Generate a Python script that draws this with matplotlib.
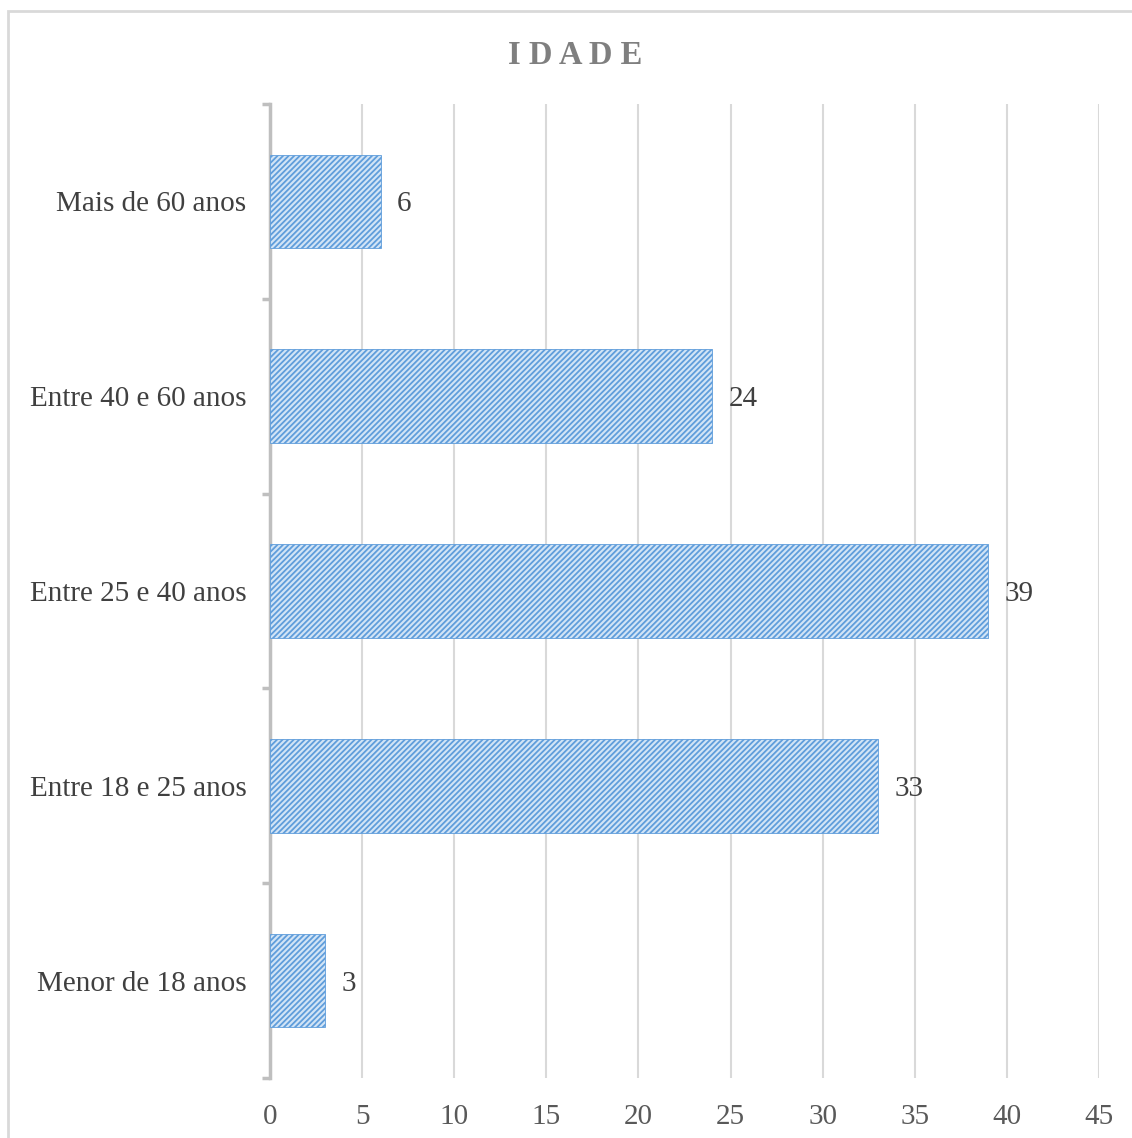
import matplotlib.pyplot as plt
from matplotlib.patches import Rectangle

# Data
categories = ['Menor de 18 anos', 'Entre 18 e 25 anos', 'Entre 25 e 40 anos',
              'Entre 40 e 60 anos', 'Mais de 60 anos']
values = [3, 33, 39, 24, 6]
x_ticks = [0, 5, 10, 15, 20, 25, 30, 35, 40, 45]

plt.rcParams['font.family'] = ['Liberation Serif', 'DejaVu Serif']
plt.rcParams['hatch.linewidth'] = 1.3

fig = plt.figure(figsize=(11.32, 11.38), dpi=100)
ax = fig.add_axes([270 / 1132, 1 - 1078 / 1138, (1099 - 270) / 1132, (1078 - 104) / 1138])

y = range(len(categories))
bars = ax.barh(y, values, height=0.48, color='#d2e4f6', edgecolor='#5f9ddb',
               hatch='//////', linewidth=0.6, zorder=3)

# Value labels
for yi, v in zip(y, values):
    ax.text(v + 0.9, yi, str(v), va='center_baseline', ha='left', fontsize=21,
            color='#404040')

ax.set_xlim(0, 45)
ax.set_ylim(-0.5, len(categories) - 0.5)
ax.set_xticks(x_ticks)
ax.set_yticks(list(y))
ax.set_yticklabels(categories)
ax.set_yticks([i - 0.5 for i in range(len(categories) + 1)], minor=True)

ax.grid(axis='x', color='#d9d9d9', linewidth=1.5, zorder=0)
ax.tick_params(axis='x', length=0, pad=19, labelsize=21, labelcolor='#595959')
ax.tick_params(axis='y', which='major', length=0, pad=17, labelsize=21, labelcolor='#404040')
ax.tick_params(axis='y', which='minor', length=6, width=2.5, color='#bfbfbf')
for lbl in ax.get_yticklabels():
    lbl.set_verticalalignment('center_baseline')

for s in ['top', 'right', 'bottom']:
    ax.spines[s].set_visible(False)
ax.spines['left'].set_color('#bfbfbf')
ax.spines['left'].set_linewidth(2.5)

fig.text(0.508, 1 - 55 / 1138, 'I D A D E', ha='center', va='center', fontsize=23.5,
         fontweight='bold', color='#7f7f7f')

# Outer chart border
fig.patches.append(Rectangle((8 / 1132, -0.01), 1.02, 1 - 11 / 1138 + 0.01,
                             transform=fig.transFigure, fill=False,
                             edgecolor='#d9d9d9', linewidth=2))

fig.savefig('out.png', dpi=100)
